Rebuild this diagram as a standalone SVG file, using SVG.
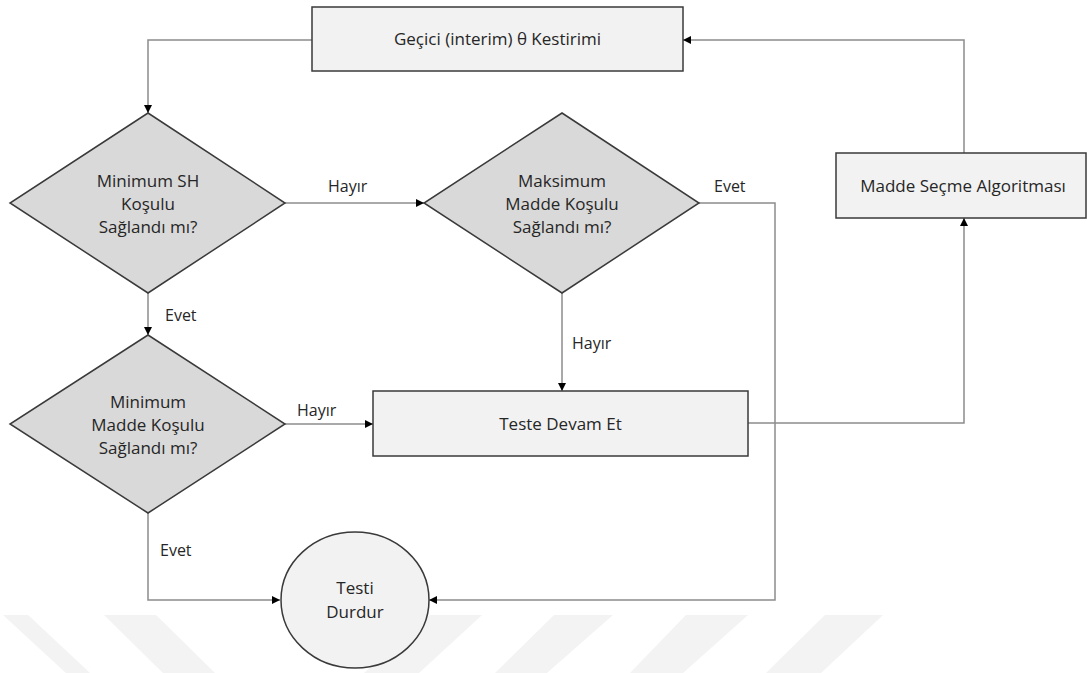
<svg xmlns="http://www.w3.org/2000/svg" width="1087" height="673" viewBox="0 0 1087 673">
  <style>
    .box { fill: #f2f2f2; stroke: #3a3a3a; stroke-width: 1.5; }
    .dec { fill: #d9d9d9; stroke: #3a3a3a; stroke-width: 1.5; }
    .txt { font-family: "Open Sans", "Liberation Sans", sans-serif; font-size: 17px; fill: #262626; text-anchor: middle; }
    .lbl { font-family: "Open Sans", "Liberation Sans", sans-serif; font-size: 16px; fill: #262626; }
    .wire { fill: none; stroke: #8c8c8c; stroke-width: 1.5; }
    .mark { fill: #f3f3f3; }
  </style>
  <defs>
    <marker id="arrow" viewBox="0 0 10 10" refX="10" refY="5" markerWidth="8" markerHeight="8" markerUnits="userSpaceOnUse" orient="auto">
      <path d="M0,0 L10,5 L0,10 Z" fill="#000"/>
    </marker>
  </defs>

  <rect width="1087" height="673" fill="#ffffff"/>

  <!-- faint background bands -->
  <g id="bands">
    <polygon class="mark" points="3,615 28,615 90,673 66,673"/>
    <polygon class="mark" points="104,615 156,615 215,673 163,673"/>
    <polygon class="mark" points="430,615 482,615 419,673 364,673"/>
    <polygon class="mark" points="554,615 613,615 547,673 495,673"/>
    <polygon class="mark" points="686,615 748,615 683,673 630,673"/>
    <polygon class="mark" points="825,615 883,615 821,673 766,673"/>
  </g>

  <!-- connectors -->
  <g id="connectors">
    <path class="wire" d="M312,40 H148 V113" marker-end="url(#arrow)"/>
    <path class="wire" d="M285,203 H424" marker-end="url(#arrow)"/>
    <path class="wire" d="M699,203 H775 V600 H429" marker-end="url(#arrow)"/>
    <path class="wire" d="M148,293 V335" marker-end="url(#arrow)"/>
    <path class="wire" d="M562,293 V391" marker-end="url(#arrow)"/>
    <path class="wire" d="M285,424 H373" marker-end="url(#arrow)"/>
    <path class="wire" d="M148,513 V600 H280" marker-end="url(#arrow)"/>
    <path class="wire" d="M748,423 H964 V218" marker-end="url(#arrow)"/>
    <path class="wire" d="M964,153 V40 H683" marker-end="url(#arrow)"/>
    <text class="lbl" x="328" y="192">Hayır</text>
    <text class="lbl" x="714" y="192">Evet</text>
    <text class="lbl" x="165" y="321">Evet</text>
    <text class="lbl" x="572" y="349">Hayır</text>
    <text class="lbl" x="297" y="416">Hayır</text>
    <text class="lbl" x="160" y="556">Evet</text>
  </g>

  <g id="interim">
    <rect class="box" x="312" y="7" width="371" height="64"/>
    <text class="txt" x="497.5" y="45">Geçici (interim) θ Kestirimi</text>
  </g>

  <g id="min-sh">
    <polygon class="dec" points="148,113 285,203 148,293 10,203"/>
    <text class="txt" x="148" y="187">Minimum SH</text>
    <text class="txt" x="148" y="210">Koşulu</text>
    <text class="txt" x="148" y="233">Sağlandı mı?</text>
  </g>

  <g id="max-madde">
    <polygon class="dec" points="562,113 699,203 562,293 424,203"/>
    <text class="txt" x="562" y="187">Maksimum</text>
    <text class="txt" x="562" y="210">Madde Koşulu</text>
    <text class="txt" x="562" y="233">Sağlandı mı?</text>
  </g>

  <g id="min-madde">
    <polygon class="dec" points="148,335 285,424 148,513 10,424"/>
    <text class="txt" x="148" y="408">Minimum</text>
    <text class="txt" x="148" y="431">Madde Koşulu</text>
    <text class="txt" x="148" y="454">Sağlandı mı?</text>
  </g>

  <g id="devam">
    <rect class="box" x="373" y="391" width="375" height="65"/>
    <text class="txt" x="560.5" y="430">Teste Devam Et</text>
  </g>

  <g id="secme">
    <rect class="box" x="836" y="153" width="250" height="65"/>
    <text class="txt" x="963" y="192">Madde Seçme Algoritması</text>
  </g>

  <g id="durdur">
    <ellipse class="box" cx="355" cy="600" rx="74" ry="68"/>
    <text class="txt" x="355" y="594">Testi</text>
    <text class="txt" x="355" y="618">Durdur</text>
  </g>
</svg>
